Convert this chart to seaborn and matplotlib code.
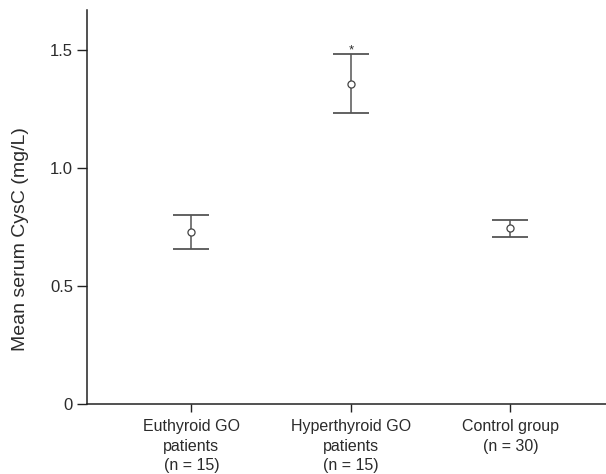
import numpy as np
import seaborn as sns
import matplotlib
matplotlib.use("Agg")
import matplotlib.pyplot as plt

# ------------------------------------------------------------
# DATA
# ------------------------------------------------------------
groups = ["Euthyroid GO\npatients\n(n = 15)",
          "Hyperthyroid GO\npatients\n(n = 15)",
          "Control group\n(n = 30)"]
means = [0.730, 1.356, 0.747]
upper = [0.802, 1.482, 0.782]
lower = [0.657, 1.232, 0.709]
yticks = [0, 0.5, 1.0, 1.5]
ytick_labels = ["0", "0.5", "1.0", "1.5"]

# ------------------------------------------------------------
# STYLE
# ------------------------------------------------------------
sns.set_theme(style="ticks")
plt.rcParams["font.family"] = ["Liberation Sans", "DejaVu Sans"]
text_col = "#2b2b2b"

fig = plt.figure(figsize=(6.06, 4.74), dpi=100)
ax = fig.add_axes([87 / 606, 70 / 474, 1 - 87 / 606, 394 / 474])

m = np.array(means)
yerr = [m - np.array(lower), np.array(upper) - m]
ax.errorbar(range(len(groups)), means, yerr=yerr, fmt="none",
            ecolor="#555555", elinewidth=1.1, capsize=13, capthick=1.3)
sns.scatterplot(x=groups, y=means, ax=ax, marker="o", s=26,
                facecolor="white", edgecolor="#444444", linewidth=0.9, zorder=3)

# significance marker
ax.annotate("*", xy=(1, upper[1]), xytext=(0, -1.5), textcoords="offset points",
            ha="center", va="bottom", fontsize=9.5, color=text_col)

ax.set_xlim(-0.655, 2.6)
ax.set_ylim(0, 1.67)
ax.set_yticks(yticks)
ax.set_yticklabels(ytick_labels)
ax.set_xticks(range(len(groups)))
ax.set_xticklabels(groups, linespacing=1.38)
ax.set_ylabel("Mean serum CysC (mg/L)", fontsize=14, color=text_col)
ax.yaxis.set_label_coords(-0.112, 0.418)
ax.set_xlabel("")

ax.tick_params(axis="y", length=7, width=1, pad=3, labelsize=12, colors="#222222",
               labelcolor=text_col)
ax.tick_params(axis="x", length=5.5, width=1, pad=5.5, labelsize=11.5, colors="#222222",
               labelcolor=text_col)
for side in ["top", "right"]:
    ax.spines[side].set_visible(False)
for side in ["left", "bottom"]:
    ax.spines[side].set_color("#222222")
    ax.spines[side].set_linewidth(1.1)

fig.savefig("out.png", dpi=100)
